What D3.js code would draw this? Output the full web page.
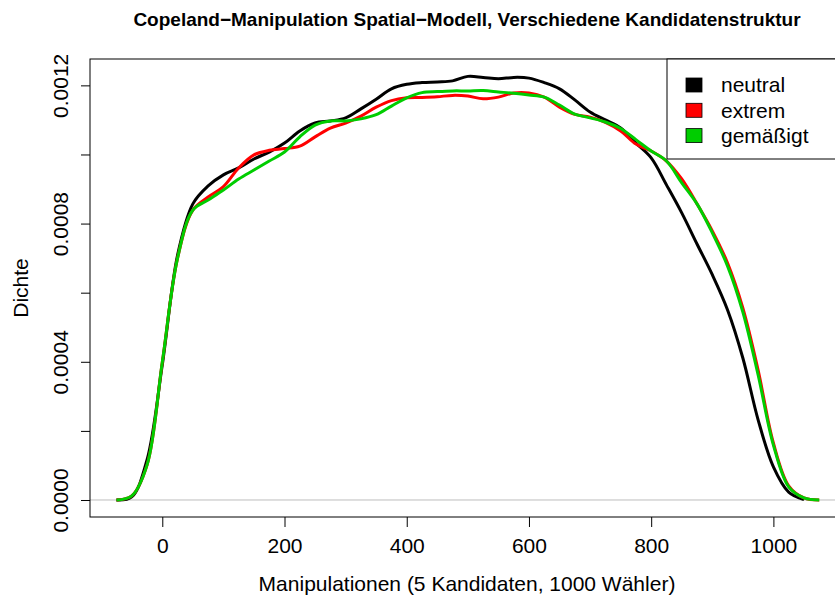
<!DOCTYPE html>
<html>
<head>
<meta charset="utf-8">
<script src="https://cdn.jsdelivr.net/npm/d3@7"></script>
<style>
  body { margin: 0; background: #fff; }
  svg { display: block; font-family: "Liberation Sans", Arial, sans-serif; }
</style>
</head>
<body>
<svg id="chart" width="835" height="599"></svg>
<script>
// density estimates, x = manipulations
var xGrid = [-75, -50, -25, 0, 25, 50, 75, 100, 125, 150, 175, 200, 225, 250, 275, 300,
    325, 350, 375, 400, 425, 450, 475, 500, 525, 550, 575, 600, 625, 650, 675, 700,
    725, 750, 775, 800, 825, 850, 875, 900, 925, 950, 975, 1000, 1025, 1050, 1075];

// values in units of 1e-4
var neutral = [0.00, 0.09, 1.16, 3.91, 7.09, 8.57, 9.09, 9.41, 9.61, 9.87, 10.07, 10.33, 10.68, 10.91, 10.97, 11.06,
    11.32, 11.60, 11.90, 12.03, 12.08, 12.10, 12.13, 12.26, 12.23, 12.19, 12.23, 12.21, 12.08, 11.90, 11.58, 11.23,
    11.00, 10.77, 10.33, 9.90, 9.12, 8.31, 7.41, 6.52, 5.50, 4.11, 2.32, 0.96, 0.23, 0.01];
var extrem = [0.00, 0.12, 1.01, 3.99, 7.00, 8.39, 8.77, 9.07, 9.61, 9.99, 10.12, 10.17, 10.24, 10.51, 10.76, 10.91,
    11.11, 11.37, 11.56, 11.64, 11.65, 11.67, 11.71, 11.69, 11.61, 11.66, 11.78, 11.78, 11.66, 11.37, 11.16, 11.08,
    10.93, 10.68, 10.30, 10.10, 9.81, 9.29, 8.57, 7.79, 6.86, 5.56, 3.76, 1.65, 0.41, 0.06, 0.00];
var gemaessigt = [0.00, 0.12, 1.01, 3.99, 7.00, 8.39, 8.68, 8.97, 9.29, 9.55, 9.81, 10.07, 10.51, 10.85, 10.97, 10.97,
    11.03, 11.15, 11.40, 11.64, 11.79, 11.82, 11.84, 11.84, 11.85, 11.81, 11.77, 11.72, 11.66, 11.43, 11.17, 11.06,
    10.94, 10.75, 10.43, 10.10, 9.81, 9.18, 8.57, 7.73, 6.77, 5.44, 3.62, 1.59, 0.38, 0.06, 0.00];

var seriesNames = ["neutral", "extrem", "gemäßigt"];
var seriesColors = ["#000000", "#ff0000", "#00cd00"];
var xTicks = [0, 200, 400, 600, 800, 1000];
var yTicks = [0, 0.0002, 0.0004, 0.0006, 0.0008, 0.0010, 0.0012];
var yLabelled = [0, 0.0004, 0.0008, 0.0012];   // R drops the crowded ones

var svg = d3.select("#chart");
var margin = {left: 90, top: 59, right: -11, bottom: 82};
var width = 835 - margin.left - margin.right,
    height = 599 - margin.top - margin.bottom;

var xScale = d3.scaleLinear().domain([-118.3, 1118.8]).range([0, width]);
var yScale = d3.scaleLinear().domain([-0.0000492, 0.0012763]).range([height, 0]);

var g = svg.append("g").attr("transform", "translate(" + margin.left + "," + margin.top + ")");

// zero line
g.append("line")
    .attr("x1", 0).attr("x2", width)
    .attr("y1", yScale(0)).attr("y2", yScale(0))
    .attr("stroke", "#bebebe").attr("stroke-width", 1);

var toPoints = function (vals) {
    return vals.map(function (v, i) { return {x: xGrid[i], y: v * 1e-4}; });
};

var line = d3.line()
    .x(function (d) { return xScale(d.x); })
    .y(function (d) { return yScale(d.y); })
    .curve(d3.curveCatmullRom.alpha(0.5));

[neutral, extrem, gemaessigt].forEach(function (vals, i) {
    g.append("path")
        .attr("d", line(toPoints(vals)))
        .attr("fill", "none")
        .attr("stroke", seriesColors[i])
        .attr("stroke-width", 3)
        .attr("stroke-linejoin", "round");
});

// axes
var fmt4 = d3.format(".4f");
var xAxis = g.append("g").attr("transform", "translate(0," + height + ")")
    .call(d3.axisBottom(xScale).tickValues(xTicks).tickSize(10).tickPadding(8).tickFormat(d3.format("d")));
var yAxis = g.append("g")
    .call(d3.axisLeft(yScale).tickValues(yTicks).tickSize(9)
        .tickFormat(function (d) {
            return yLabelled.some(function (v) { return Math.abs(v - d) < 1e-9; }) ? fmt4(d) : "";
        }));

[xAxis, yAxis].forEach(function (ax) {
    ax.select(".domain").remove();
    ax.selectAll("line").attr("stroke", "#000");
    ax.selectAll("text").attr("font-size", 21).attr("fill", "#000")
        .attr("font-family", "Liberation Sans, Arial, sans-serif");
});
xAxis.selectAll("text").attr("dy", null).attr("y", 36);
yAxis.selectAll("text")
    .attr("x", null).attr("dy", null)
    .attr("text-anchor", "middle")
    .attr("transform", "translate(-22,0) rotate(-90)");

// frame
g.append("rect")
    .attr("x", 0).attr("y", 0).attr("width", width).attr("height", height)
    .attr("fill", "none").attr("stroke", "#000").attr("stroke-width", 1);

// legend
var legend = g.append("g").attr("transform", "translate(" + (667 - margin.left) + ",0)");
legend.append("rect")
    .attr("x", 0).attr("y", 0).attr("width", width - (667 - margin.left)).attr("height", 100)
    .attr("fill", "#fff").attr("stroke", "#000").attr("stroke-width", 1);
seriesNames.forEach(function (name, i) {
    var cy = 26 + i * 25.3;
    legend.append("rect")
        .attr("x", 19).attr("y", cy - 7).attr("width", 16).attr("height", 14)
        .attr("fill", seriesColors[i]).attr("stroke", "#000").attr("stroke-width", 0.8);
    legend.append("text")
        .attr("x", 54).attr("y", cy).attr("dy", "0.35em")
        .attr("font-size", 21).text(name);
});

// titles
svg.append("text")
    .attr("x", 467).attr("y", 26)
    .attr("text-anchor", "middle").attr("font-size", 19).attr("font-weight", "bold")
    .text("Copeland−Manipulation Spatial−Modell, Verschiedene Kandidatenstruktur");
svg.append("text")
    .attr("x", 467).attr("y", 591)
    .attr("text-anchor", "middle").attr("font-size", 21)
    .text("Manipulationen (5 Kandidaten, 1000 Wähler)");
svg.append("text")
    .attr("transform", "translate(28," + (margin.top + height / 2) + ") rotate(-90)")
    .attr("text-anchor", "middle").attr("font-size", 21)
    .text("Dichte");
</script>
</body>
</html>
